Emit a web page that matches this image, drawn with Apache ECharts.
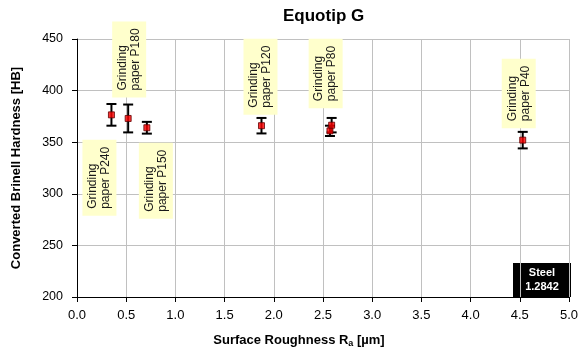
<!DOCTYPE html>
<html>
<head>
<meta charset="utf-8">
<script src="https://cdn.jsdelivr.net/npm/echarts@6/dist/echarts.min.js"></script>
<style>
html,body{margin:0;padding:0;background:#fff;}
#c{width:581px;height:353px;}
</style>
</head>
<body>
<div id="c"></div>
<script>
// ---- data ----
var roughness = [0.35, 0.52, 0.71, 1.875, 2.571, 2.588, 4.53];
var hardness  = [376.5, 373.0, 364.0, 366.0, 361.0, 366.5, 352.0];
var errors    = [10.5, 13.5, 5.7, 7.5, 5.0, 7.0, 8.0];
var labelTexts = ['Grinding\npaper P240', 'Grinding\npaper P180', 'Grinding\npaper P150',
                  'Grinding\npaper P120', 'Grinding\npaper P80', 'Grinding\npaper P40'];
var labelPointIndex = [0, 1, 2, 3, 5, 6];
var xTicks = [0, 0.5, 1, 1.5, 2, 2.5, 3, 3.5, 4, 4.5, 5];
var yTicks = [200, 250, 300, 350, 400, 450];

// ---- presentation (pixel offsets of label boxes from their point) ----
var labelOffsets = [[-12, 101], [1, -21], [9, 91], [-1, -11], [-6, -17], [-4, -12]];

var FONT = '"Liberation Sans", Arial, sans-serif';
var chart = echarts.init(document.getElementById('c'), null, {renderer: 'canvas'});

var pts = roughness.map(function (x, i) { return [x, hardness[i], errors[i]]; });
var labelData = labelPointIndex.map(function (pi, k) { return [roughness[pi], hardness[pi], k]; });

chart.setOption({
  animation: false,
  backgroundColor: '#fff',
  title: {
    text: 'Equotip G', left: 278, top: 3,
    textStyle: {fontFamily: FONT, fontSize: 17, fontWeight: 'bold', color: '#000'}
  },
  grid: {left: 77, right: 10, top: 39, bottom: 56, containLabel: false},
  xAxis: {
    type: 'value', min: xTicks[0], max: xTicks[xTicks.length - 1], interval: 0.5,
    name: 'Surface Roughness {r|R}{s|a}{r| [µm]}',
    nameLocation: 'middle', nameGap: 36,
    nameTextStyle: {
      fontFamily: FONT, fontSize: 13, fontWeight: 'bold', color: '#000', padding: [0, 48, 0, 0],
      rich: {
        r: {fontFamily: FONT, fontSize: 13, fontWeight: 'bold', color: '#000'},
        s: {fontFamily: FONT, fontSize: 9, fontWeight: 'bold', color: '#000', padding: [6, 0, 0, 0]}
      }
    },
    axisLine: {show: true, onZero: false, lineStyle: {color: '#000', width: 1}},
    axisTick: {show: true, inside: false, length: 5, lineStyle: {color: '#000'}},
    axisLabel: {
      margin: 12, fontFamily: FONT, fontSize: 13, color: '#000',
      formatter: function (v) { return v.toFixed(1); }
    },
    splitLine: {show: true, lineStyle: {color: '#c0c0c0', width: 1}}
  },
  yAxis: {
    type: 'value', min: yTicks[0], max: yTicks[yTicks.length - 1], interval: 50,
    name: 'Converted Brinell Hardness [HB]',
    nameLocation: 'middle', nameGap: 54,
    nameTextStyle: {fontFamily: FONT, fontSize: 13, fontWeight: 'bold', color: '#000'},
    axisLine: {show: true, onZero: false, lineStyle: {color: '#000', width: 1}},
    axisTick: {show: true, inside: false, length: 5, lineStyle: {color: '#000'}},
    axisLabel: {margin: 14, fontFamily: FONT, fontSize: 12.5, color: '#000'},
    splitLine: {show: true, lineStyle: {color: '#c0c0c0', width: 1}}
  },
  series: [
    {
      type: 'custom', name: 'err', z: 3,
      data: pts,
      renderItem: function (params, api) {
        var x = api.value(0), y = api.value(1), e = api.value(2);
        var top = api.coord([x, y + e]);
        var bot = api.coord([x, y - e]);
        var hw = 5;
        var st = {stroke: '#000', lineWidth: 2};
        return {
          type: 'group',
          children: [
            {type: 'line', shape: {x1: top[0], y1: top[1], x2: bot[0], y2: bot[1]}, style: st},
            {type: 'line', shape: {x1: top[0] - hw, y1: top[1], x2: top[0] + hw, y2: top[1]}, style: st},
            {type: 'line', shape: {x1: bot[0] - hw, y1: bot[1], x2: bot[0] + hw, y2: bot[1]}, style: st}
          ]
        };
      }
    },
    {
      type: 'scatter', name: 'points', z: 4,
      data: pts.map(function (p) { return [p[0], p[1]]; }),
      symbol: 'rect', symbolSize: 6,
      itemStyle: {color: '#ff0000', borderColor: '#600000', borderWidth: 1}
    },
    {
      type: 'custom', name: 'labels', z: 5,
      data: labelData,
      renderItem: function (params, api) {
        var k = api.value(2);
        var p = api.coord([api.value(0), api.value(1)]);
        var off = labelOffsets[k];
        return {
          type: 'text',
          x: p[0] + off[0], y: p[1] + off[1],
          rotation: Math.PI / 2,
          style: {
            text: labelTexts[k],
            fill: '#1a1a1a',
            font: '12px ' + FONT,
            align: 'left', verticalAlign: 'middle',
            lineHeight: 13,
            backgroundColor: '#ffffcc',
            padding: [4, 7, 4, 7]
          }
        };
      }
    }
  ],
  graphic: [
    {
      type: 'group', right: 10, bottom: 56,
      children: [
        {type: 'rect', shape: {x: 0, y: 0, width: 58, height: 34}, style: {fill: '#000'}},
        {type: 'text', x: 29, y: 17, style: {
          text: 'Steel\n1.2842', fill: '#fff', font: 'bold 11px ' + FONT,
          align: 'center', verticalAlign: 'middle', lineHeight: 14
        }}
      ]
    }
  ]
});
</script>
</body>
</html>
